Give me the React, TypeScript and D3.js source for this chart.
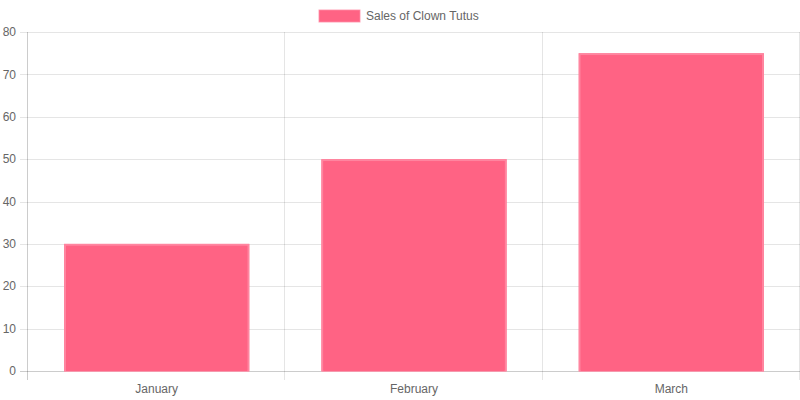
import React from "react";
import * as d3 from "d3";

const categories = ["January", "February", "March"];
const sales = [30, 50, 75];
const yTicks = [0, 10, 20, 30, 40, 50, 60, 70, 80];
const seriesLabel = "Sales of Clown Tutus";

export default function App() {
  const W = 800, H = 400;
  const left = 28, right = 800, top = 32, bottom = 371;
  const x = d3.scaleBand<string>().domain(categories).range([left, right]).paddingInner(0).paddingOuter(0);
  const y = d3.scaleLinear().domain([0, 80]).range([bottom, top]);
  const bw = x.bandwidth() * 0.72;
  const font = "'Liberation Sans', Arial, Helvetica, sans-serif";
  const grid = "rgba(0,0,0,0.1)";
  const boundaries = [left, ...categories.map((c) => (x(c) as number) + x.bandwidth())];
  return (
    <svg width={W} height={H} style={{ position: "absolute", left: 0, top: 0, background: "#fff" }} fontFamily={font}>
      {/* horizontal grid */}
      {yTicks.map((t) => (
        <g key={t}>
          <line x1={20} x2={right} y1={Math.round(y(t)) + 0.5} y2={Math.round(y(t)) + 0.5} stroke={t === 0 ? "rgba(0,0,0,0.2)" : grid} />
          <text x={16} y={y(t)} dy="0.35em" textAnchor="end" fontSize={12} fill="#666">{t}</text>
        </g>
      ))}
      {/* vertical grid */}
      {boundaries.map((b, i) => (
        <line key={i} x1={Math.round(b) - 0.5} x2={Math.round(b) - 0.5} y1={top} y2={bottom + 9} stroke={i === 0 ? "rgba(0,0,0,0.2)" : grid} />
      ))}
      {/* bars */}
      {categories.map((c, i) => {
        const cx = (x(c) as number) + x.bandwidth() / 2;
        const x0 = cx - bw / 2;
        const yt = y(sales[i]);
        return (
          <g key={c}>
            <rect x={x0} y={yt} width={bw} height={bottom - yt} fill="rgba(255,99,132,0.97)" />
            <rect x={x0 + 1} y={yt + 1} width={bw - 2} height={bottom - yt - 1} fill="none" stroke="rgba(255,140,165,0.8)" strokeWidth={2} />
            <rect x={x0 + 2} y={yt + 2} width={bw - 4} height={bottom - yt - 2} fill="rgb(255,99,132)" />
            <text x={cx} y={389} dy="0.35em" textAnchor="middle" fontSize={12} fill="#666">{c}</text>
          </g>
        );
      })}
      {/* legend */}
      <rect x={319} y={10} width={41} height={12} fill="rgb(255,99,132)" stroke="rgba(255,140,165,0.8)" strokeWidth={1} />
      <text x={366} y={16} dy="0.35em" fontSize={12} fill="#666">{seriesLabel}</text>
    </svg>
  );
}
